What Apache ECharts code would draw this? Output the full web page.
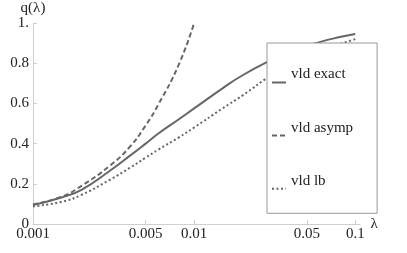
<!DOCTYPE html>
<html><head><meta charset="utf-8">
<script src="https://cdn.jsdelivr.net/npm/echarts@6/dist/echarts.min.js"></script>
<style>html,body{margin:0;padding:0;background:#fff}#c{width:407px;height:253px}</style>
</head><body><div id="c"></div>
<script>
const lambdas = [0.001, 0.0015, 0.002, 0.003, 0.004, 0.005, 0.006, 0.008, 0.01, 0.015, 0.02, 0.03, 0.04, 0.06, 0.08, 0.1];
const vldExact = [0.095, 0.132, 0.17, 0.265, 0.34, 0.40, 0.45, 0.52, 0.575, 0.675, 0.74, 0.815, 0.86, 0.905, 0.93, 0.945];
const asympLambdas = [0.001, 0.0015, 0.002, 0.003, 0.004, 0.005, 0.006, 0.008, 0.01];
const vldAsymp = [0.097, 0.135, 0.19, 0.29, 0.385, 0.49, 0.595, 0.79, 1.0];
const vldLb = [0.088, 0.11, 0.145, 0.22, 0.28, 0.33, 0.37, 0.43, 0.48, 0.575, 0.64, 0.74, 0.8, 0.865, 0.895, 0.92];
const xTicks = [0.001, 0.005, 0.01, 0.05, 0.1];
const yTicks = [0, 0.2, 0.4, 0.6, 0.8, 1];
const yTickLabels = ['0', '0.2', '0.4', '0.6', '0.8', '1.'];
const seriesNames = ['vld exact', 'vld asymp', 'vld lb'];

const font = 'Liberation Serif';
const lineColor = '#666';
const axisColor = '#cfcfcf';
const chart = echarts.init(document.getElementById('c'));
chart.setOption({
  animation: false,
  grid: {left: 33, right: 47, top: 23, bottom: 29},
  xAxis: {
    type: 'log', min: 0.001, max: 0.107,
    name: 'λ', nameLocation: 'end', nameGap: 10,
    nameTextStyle: {fontFamily: font, fontSize: 15, color: '#222', padding: [0, 0, 2, 0]},
    axisLine: {lineStyle: {color: axisColor}},
    axisTick: {show: true, inside: true, length: 4, lineStyle: {color: axisColor}, customValues: xTicks},
    axisLabel: {fontFamily: font, fontSize: 15, color: '#222', margin: 3, customValues: xTicks,
      formatter: v => String(v)},
    splitLine: {show: false}, minorTick: {show: false}
  },
  yAxis: {
    type: 'value', min: 0, max: 1, interval: 0.2,
    name: 'q(λ)', nameLocation: 'end', nameGap: 0,
    nameTextStyle: {fontFamily: font, fontSize: 15, color: '#222'},
    axisLine: {show: true, lineStyle: {color: axisColor}},
    axisTick: {show: true, inside: true, length: 4, lineStyle: {color: axisColor}},
    axisLabel: {fontFamily: font, fontSize: 15, color: '#222', margin: 4,
      formatter: v => { const i = yTicks.findIndex(t => Math.abs(t - v) < 1e-9); return i >= 0 ? yTickLabels[i] : ''; }},
    splitLine: {show: false}
  },
  legend: {
    orient: 'vertical', left: 267, top: 43,
    backgroundColor: '#fff', borderColor: '#999', borderWidth: 1,
    padding: [24, 24, 19, 4], itemGap: 32, itemWidth: 14, itemHeight: 14,
    itemStyle: {opacity: 0},
    formatter: n => '{t|' + n + '}',
    textStyle: {fontFamily: font, fontSize: 15, color: '#222',
      rich: {t: {fontFamily: font, fontSize: 15, color: '#222', padding: [0, 0, 16, 0]}}},
    data: seriesNames
  },
  series: [
    {name: seriesNames[0], type: 'line', smooth: true, symbol: 'none',
      lineStyle: {color: lineColor, width: 2, type: 'solid'}, itemStyle: {color: lineColor},
      data: lambdas.map((l, i) => [l, vldExact[i]])},
    {name: seriesNames[1], type: 'line', smooth: true, symbol: 'none',
      lineStyle: {color: lineColor, width: 2, type: [5, 3]}, itemStyle: {color: lineColor},
      data: asympLambdas.map((l, i) => [l, vldAsymp[i]])},
    {name: seriesNames[2], type: 'line', smooth: true, symbol: 'none',
      lineStyle: {color: lineColor, width: 2, type: [2, 2.5]}, itemStyle: {color: lineColor},
      data: lambdas.map((l, i) => [l, vldLb[i]])}
  ]
});
</script></body></html>
